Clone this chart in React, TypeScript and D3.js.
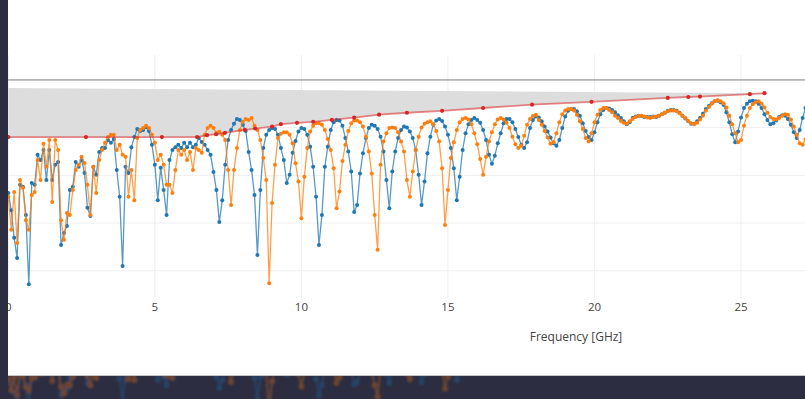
import * as d3 from 'd3'

// measured return loss, dB, one value every 0.1 GHz starting at 0 GHz
const blueDb = [
  -23.7, -27.3, -33.1, -37.3, -22.0, -22.4, -28.3, -42.8, -21.6, -22.0,
  -15.7, -16.8, -14.7, -21.0, -14.7, -21.0, -17.8, -17.2, -34.6, -32.1,
  -30.6, -23.1, -22.4, -17.2, -18.2, -16.8, -19.5, -26.8, -28.5, -18.2,
  -19.9, -15.1, -14.3, -14.3, -12.6, -13.2, -12.4, -18.9, -24.5, -39.0,
  -18.2, -19.5, -14.1, -12.0, -10.3, -10.7, -10.5, -9.9, -10.7, -13.6,
  -17.8, -25.2, -18.4, -23.1, -28.3, -16.8, -14.7, -14.1, -13.6, -14.3,
  -13.2, -14.1, -13.2, -14.1, -13.6, -12.2, -13.0, -13.6, -14.7, -15.7,
  -19.3, -23.1, -29.8, -25.2, -17.8, -12.6, -10.5, -9.2, -8.2, -8.4,
  -9.4, -10.7, -15.1, -18.9, -24.1, -36.7, -23.1, -14.3, -11.5, -10.5,
  -10.1, -10.3, -11.5, -14.3, -16.8, -21.6, -19.9, -15.3, -12.8, -10.8,
  -10.1, -10.3, -11.5, -14.0, -18.2, -24.5, -34.6, -28.3, -18.2, -14.0,
  -10.5, -8.9, -8.4, -8.5, -9.6, -12.2, -15.0, -19.2, -27.7, -26.2,
  -19.6, -15.4, -12.2, -10.1, -9.4, -9.6, -10.3, -11.9, -15.0, -21.0,
  -26.9, -19.2, -15.0, -12.2, -10.5, -9.8, -10.0, -10.8, -12.2, -14.7,
  -19.9, -26.2, -21.3, -15.4, -11.9, -9.4, -8.5, -8.2, -8.6, -9.8,
  -11.5, -14.3, -18.5, -25.2, -20.3, -14.7, -11.2, -9.3, -8.4, -8.0,
  -8.4, -9.0, -10.5, -12.6, -15.7, -17.6, -15.9, -13.3, -11.2, -9.1,
  -8.2, -8.2, -8.9, -10.3, -12.0, -13.6, -14.3, -13.1, -10.1, -8.4,
  -7.7, -7.9, -8.7, -9.8, -10.8, -12.1, -13.3, -13.8, -12.6, -10.1,
  -7.7, -6.5, -6.1, -6.1, -6.6, -7.5, -9.1, -10.7, -12.0, -12.6,
  -11.0, -8.9, -7.2, -6.3, -5.9, -6.0, -6.3, -6.8, -7.4, -8.0,
  -8.7, -9.3, -8.9, -8.0, -7.7, -7.5, -7.6, -7.8, -7.8, -7.8,
  -7.7, -7.8, -7.5, -7.2, -6.9, -6.5, -6.3, -6.3, -6.5, -6.9,
  -7.5, -8.1, -8.7, -9.2, -9.2, -8.7, -8.0, -7.1, -6.1, -5.5,
  -4.9, -4.5, -4.4, -4.7, -5.2, -6.8, -8.9, -11.4, -13.1, -10.8,
  -7.9, -5.9, -5.0, -4.5, -4.4, -4.5, -5.0, -5.9, -7.2, -8.4,
  -9.3, -9.1, -8.5, -7.8, -7.4, -7.5, -8.2, -9.4, -11.0, -12.2,
  -10.5, -8.0, -5.9, -4.6,
]

const orangeDb = [
  -24.5, -31.4, -23.5, -34.2, -21.0, -22.6, -29.4, -31.4, -24.1, -23.5,
  -16.8, -21.0, -13.4, -18.2, -12.6, -25.6, -12.6, -14.7, -29.4, -33.5,
  -27.9, -28.3, -23.1, -18.9, -17.8, -16.1, -17.4, -22.0, -28.3, -18.2,
  -23.7, -16.8, -14.7, -13.2, -12.0, -11.5, -11.5, -14.7, -13.6, -15.7,
  -16.1, -24.5, -18.9, -25.2, -12.2, -10.5, -10.1, -9.6, -10.1, -11.5,
  -13.2, -16.8, -15.7, -17.8, -22.0, -22.0, -23.7, -18.9, -14.7, -15.7,
  -14.7, -16.8, -15.1, -18.9, -14.3, -14.7, -15.3, -11.5, -10.1, -9.6,
  -10.1, -11.1, -10.9, -11.5, -12.6, -18.9, -26.2, -18.9, -14.3, -10.5,
  -8.8, -8.2, -8.4, -8.0, -9.6, -10.5, -12.6, -16.4, -21.0, -42.6,
  -25.8, -17.8, -12.2, -11.3, -11.0, -11.0, -11.5, -13.3, -17.5, -21.3,
  -29.0, -20.3, -14.3, -10.8, -9.6, -9.1, -9.1, -9.4, -10.5, -12.4,
  -14.7, -18.5, -26.9, -23.4, -17.0, -13.6, -10.7, -9.1, -8.5, -8.5,
  -8.9, -9.8, -11.9, -15.0, -19.6, -28.3, -35.6, -17.8, -12.9, -11.2,
  -10.1, -10.0, -10.1, -11.0, -12.9, -15.0, -21.0, -24.5, -19.2, -14.7,
  -11.9, -10.0, -9.2, -8.9, -8.7, -9.3, -10.7, -12.9, -18.5, -30.4,
  -23.1, -16.4, -13.1, -10.5, -8.9, -8.2, -8.0, -8.3, -9.3, -11.2,
  -13.5, -16.6, -19.9, -16.1, -12.9, -11.0, -9.3, -8.3, -8.0, -8.3,
  -9.0, -10.1, -11.9, -13.5, -14.3, -13.8, -11.7, -9.4, -8.2, -7.6,
  -7.3, -8.4, -9.4, -10.7, -12.1, -13.4, -13.1, -11.2, -8.9, -7.2,
  -6.4, -6.1, -6.1, -6.4, -7.3, -8.7, -10.3, -12.2, -12.9, -11.2,
  -8.9, -7.3, -6.3, -5.9, -5.9, -6.3, -6.8, -7.5, -8.0, -8.6,
  -9.0, -9.2, -8.7, -8.2, -7.8, -7.6, -7.5, -7.7, -7.9, -8.0,
  -7.8, -7.7, -7.5, -7.2, -6.9, -6.6, -6.4, -6.4, -6.6, -7.0,
  -7.5, -8.0, -8.6, -9.1, -9.3, -9.0, -8.3, -7.5, -6.5, -5.7,
  -5.0, -4.5, -4.3, -4.5, -4.9, -5.8, -7.5, -9.3, -11.2, -13.1,
  -12.6, -9.6, -7.5, -5.9, -5.1, -4.7, -4.5, -5.0, -5.8, -6.9,
  -7.8, -8.2, -8.3, -8.0, -7.5, -7.2, -7.3, -8.3, -9.8, -11.5,
  -13.3, -13.6, -12.5, -10.0,
]

// limit mask
const maskFreq = [
  0, 2.65, 5.24, 6.44, 6.78, 7.09, 7.39, 8.07, 8.42, 9.0, 9.3, 9.85, 10.4,
  11.04, 11.8, 12.65, 13.6, 14.8, 16.2, 17.87, 19.9, 22.5, 23.2, 23.6, 25.3, 25.8,
]
const maskDb = [
  -12, -12, -12, -12, -11.6, -11.4, -11.1, -10.5, -10.2, -9.8, -9.3, -9.0, -8.8,
  -8.4, -7.9, -7.3, -6.9, -6.5, -5.9, -5.2, -4.6, -3.8, -3.6, -3.5, -3.0, -2.8,
]
// upper edge of the shaded region
const bandTopFreq = [0, 25.8]
const bandTopDb = [-1.7, -2.8]

const xTicks = [0, 5, 10, 15, 20, 25]
const yGrid = [-10, -20, -30, -40]

const BLUE = '#1f77b4'
const ORANGE = '#ff7f0e'
const RED = '#d62728'

export default function App() {
  const width = 805
  const height = 399
  const plot = { left: 8, top: 55, right: 805, bottom: 298 }

  const x = d3.scaleLinear().domain([0, 27.5]).range([8.3, 8.3 + 27.5 * 29.31])
  const y = d3.scaleLinear().domain([-45.7, 5.2]).range([plot.bottom, plot.top])
  // the blurred copy of the chart seen behind the page, below the panel
  const yBg = d3.scaleLinear().domain([-45, -15]).range([412, 364])

  const freqs = blueDb.map((_, i) => +(i * 0.1).toFixed(1))
  const blue = freqs.map((f, i) => ({ f, v: blueDb[i] }))
  const orange = freqs.map((f, i) => ({ f, v: orangeDb[i] }))
  const mask = maskFreq.map((f, i) => ({ f, v: maskDb[i] }))
  const band = [
    ...bandTopFreq.map((f, i) => ({ f, v: bandTopDb[i] })),
    ...mask.slice().reverse(),
  ]

  const line = d3
    .line<{ f: number; v: number }>()
    .x((d) => x(d.f))
    .y((d) => y(d.v))
  const lineBg = d3
    .line<{ f: number; v: number }>()
    .x((d) => x(d.f))
    .y((d) => yBg(d.v))

  const series = [
    { data: blue, color: BLUE },
    { data: orange, color: ORANGE },
  ]

  return (
    <div style={{ position: 'fixed', left: 0, top: 0, width, height }}>
      <svg width={width} height={height} style={{ display: 'block' }}>
        <defs>
          <clipPath id="plotClip">
            <rect x={plot.left} y={plot.top} width={plot.right - plot.left} height={plot.bottom - plot.top} />
          </clipPath>
          <clipPath id="bgClip">
            <rect x={0} y={376} width={width} height={height - 376} />
          </clipPath>
          <filter id="soft">
            <feGaussianBlur stdDeviation={0.8} />
          </filter>
        </defs>

        <rect x={0} y={0} width={width} height={height} fill="#2c2d41" />

        <g clipPath="url(#bgClip)" opacity={0.3} filter="url(#soft)">
          {series.map((s, k) => (
            <g key={k}>
              <path d={lineBg(s.data) || ''} fill="none" stroke={s.color} strokeWidth={2} />
              {s.data.map((d, i) => (
                <circle key={i} cx={x(d.f)} cy={yBg(d.v)} r={3} fill={s.color} />
              ))}
            </g>
          ))}
        </g>

        <rect x={8} y={0} width={width - 8} height={375} fill="#ffffff" />
        <line x1={8} x2={width} y1={375.5} y2={375.5} stroke="#c8c8cc" strokeWidth={1} />

        {/* grid */}
        {xTicks.map((t) => (
          <line key={t} x1={x(t)} x2={x(t)} y1={plot.top} y2={plot.bottom} stroke="#eeeeee" strokeWidth={1} />
        ))}
        {yGrid.map((t) => (
          <line key={t} x1={plot.left} x2={plot.right} y1={y(t)} y2={y(t)} stroke="#eeeeee" strokeWidth={1} />
        ))}
        <line x1={plot.left} x2={plot.right} y1={y(0)} y2={y(0)} stroke="#b4b4b4" strokeWidth={1.6} />

        <g clipPath="url(#plotClip)">
          <path d={(line(band) || '') + 'Z'} fill="#dddddd" stroke="none" />

          {series.map((s, k) => (
            <g key={k}>
              <path d={line(s.data) || ''} fill="none" stroke={s.color} strokeWidth={1.3} strokeOpacity={0.75} />
              {s.data.map((d, i) => (
                <circle key={i} cx={x(d.f)} cy={y(d.v)} r={2} fill={s.color} />
              ))}
            </g>
          ))}

          <path d={line(mask) || ''} fill="none" stroke={RED} strokeWidth={1.8} strokeOpacity={0.55} />
          {mask.map((d, i) => (
            <circle key={i} cx={x(d.f)} cy={y(d.v)} r={2.1} fill={RED} />
          ))}
        </g>

        {/* x tick labels */}
        <g fontFamily="'Open Sans', sans-serif" fontSize={11.5} fill="#444">
          {xTicks.map((t) => (
            <text key={t} x={x(t)} y={311} textAnchor="middle">
              {t}
            </text>
          ))}
        </g>
        <text x={576} y={341} textAnchor="middle" fontFamily="'Open Sans', sans-serif" fontSize={12} fill="#444">
          Frequency [GHz]
        </text>

        {/* dark strip on the left covers the cut-off part of the figure */}
        <rect x={0} y={0} width={8} height={height} fill="#2c2d41" />
      </svg>
    </div>
  )
}
